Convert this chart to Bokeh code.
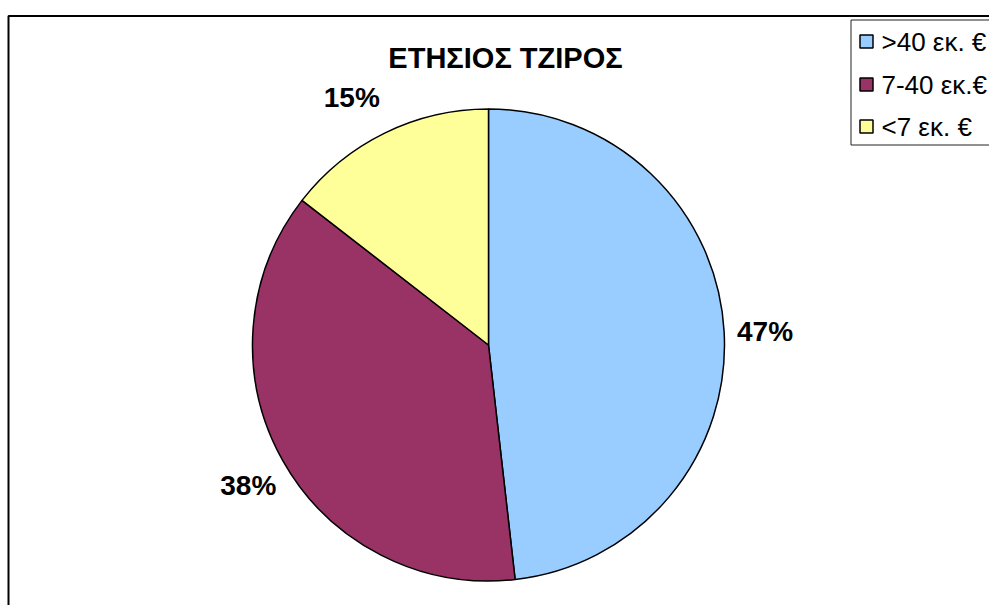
import math
from bokeh.plotting import figure
from bokeh.models import Range1d, ColumnDataSource
from bokeh.core.properties import value
from bokeh.embed import file_html
from bokeh.resources import INLINE

# ---- data ----
title = "ΕΤΗΣΙΟΣ ΤΖΙΡΟΣ"
categories = [">40 εκ. €", "7-40 εκ.€", "<7 εκ. €"]
shares = [48.2, 37.3, 14.5]
# data labels as printed on the chart
pct_labels = ["47%", "38%", "15%"]
colors = ["#99CCFF", "#993366", "#FFFF99"]

W, H = 989, 605
def sy(v):
    return H - v

p = figure(width=W, height=H, output_backend="svg", toolbar_location=None,
           x_range=Range1d(0, W), y_range=Range1d(0, H), min_border=0)
p.axis.visible = False
p.grid.visible = False
p.outline_line_color = None
p.background_fill_color = "white"
p.border_fill_color = "white"

# outer chart frame
p.quad(left=[8], right=[2000], top=[sy(15.5)], bottom=[-500],
       fill_color=None, line_color="black", line_width=2)

# pie
cx, cy, r = 488, sy(344.5), 236
total = sum(shares)
starts, ends, mids = [], [], []
cum = 0.0
for s in shares:
    a0 = cum / total
    cum += s
    a1 = cum / total
    starts.append(math.pi / 2 - 2 * math.pi * a0)
    ends.append(math.pi / 2 - 2 * math.pi * a1)
    mids.append(math.pi / 2 - 2 * math.pi * (a0 + a1) / 2)

src = ColumnDataSource(dict(start=starts, end=ends, color=colors))
p.wedge(x=cx, y=cy, radius=r, start_angle="start", end_angle="end",
        direction="clock", fill_color="color", line_color="black",
        line_width=1.5, source=src)

# percent labels (outside end, with small layout nudges)
lr = 279
nudge = [(-2, 2), (3, 0), (-14, 1)]
lx = [cx + lr * math.cos(m) + n[0] for m, n in zip(mids, nudge)]
ly = [cy + lr * math.sin(m) - 4 + n[1] for m, n in zip(mids, nudge)]
p.text(x=lx, y=ly, text=pct_labels,
       text_font=value("Liberation Sans"), text_font_style="bold",
       text_font_size="28px", text_align="center", text_baseline="middle",
       text_color="black")

# title
p.text(x=[505], y=[sy(57)], text=[title], text_font=value("Liberation Sans"),
       text_font_style="bold", text_font_size="29px", text_align="center",
       text_baseline="middle", text_color="black")

# legend
p.quad(left=[850.5], right=[1200], top=[sy(19.5)], bottom=[sy(144.5)],
       fill_color="white", line_color="#222222", line_width=1)
ly_leg = [sy(41), sy(84), sy(126)]
p.rect(x=[866] * 3, y=ly_leg, width=13, height=13, fill_color=colors,
       line_color="black", line_width=1.5)
p.text(x=[881] * 3, y=ly_leg, text=categories, text_font=value("Liberation Sans"),
       text_font_size="26px", text_align="left", text_baseline="middle",
       text_color="black")

open("out.html", "w").write(file_html(p, INLINE))
